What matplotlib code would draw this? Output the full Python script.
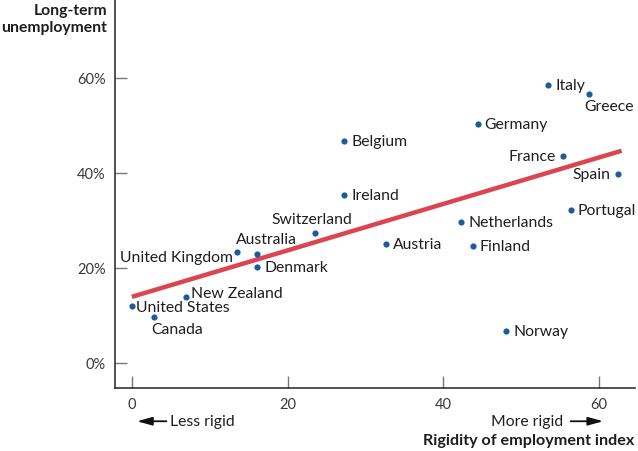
"""Long-term unemployment vs rigidity of employment index."""

import matplotlib
matplotlib.use("Agg")
import matplotlib.pyplot as plt

# --- Data ---
COUNTRIES = [
    "United States", "Canada", "New Zealand", "United Kingdom", "Australia",
    "Denmark", "Switzerland", "Ireland", "Belgium", "Austria", "Netherlands",
    "Finland", "Germany", "Norway", "Italy", "France", "Greece", "Portugal", "Spain",
]
RIGIDITY = [0.0, 2.8, 6.9, 13.5, 16.1, 16.1, 23.5, 27.3, 27.3, 32.7, 42.3,
            43.8, 44.4, 48.1, 53.5, 55.4, 58.7, 56.4, 62.4]
UNEMPLOYMENT = [12.0, 9.7, 13.9, 23.4, 22.9, 20.2, 27.4, 35.2, 46.7, 25.1, 29.7,
                24.6, 50.3, 6.7, 58.5, 43.4, 56.6, 32.2, 39.8]
TREND_X = [0, 62.9]
TREND_Y = [13.9, 44.6]

X_TICKS = [0, 20, 40, 60]
Y_TICKS = [0, 20, 40, 60]

# label placement: (dx, dy) in points, horizontal alignment
LABEL_POS = {
    "United States": ((3, -1), "left"),
    "Canada": ((-2, -9), "left"),
    "New Zealand": ((4, 3), "left"),
    "United Kingdom": ((-3, -4), "right"),
    "Australia": ((7, 11), "center"),
    "Denmark": ((5, 0), "left"),
    "Switzerland": ((-2, 10), "center"),
    "Ireland": ((5, 0), "left"),
    "Belgium": ((5, 0), "left"),
    "Austria": ((5, 0), "left"),
    "Netherlands": ((5, 0), "left"),
    "Finland": ((5, 0), "left"),
    "Germany": ((5, 0), "left"),
    "Norway": ((5, 0), "left"),
    "Italy": ((5, 0), "left"),
    "France": ((-5, 0), "right"),
    "Greece": ((-3, -9), "left"),
    "Portugal": ((5, 0), "left"),
    "Spain": ((-5, 0), "right"),
}

DOT_COLOR = "#1d5b9e"
LINE_COLOR = "#dc4450"
TEXT_COLOR = "#1e1e1e"

plt.rcParams.update({
    "font.family": ["Lato", "DejaVu Sans"],
    "font.size": 11.3,
})

fig = plt.figure(figsize=(6.38, 4.52), dpi=100)
ax = fig.add_axes([0.181, 0.139, 0.814, 0.861])

ax.plot(TREND_X, TREND_Y, color=LINE_COLOR, lw=3.2, solid_capstyle="butt", zorder=2)
ax.scatter(RIGIDITY, UNEMPLOYMENT, s=20, color=DOT_COLOR, zorder=3, linewidths=0)

for name, x, y in zip(COUNTRIES, RIGIDITY, UNEMPLOYMENT):
    (dx, dy), ha = LABEL_POS[name]
    ax.annotate(name, (x, y), textcoords="offset points", xytext=(dx, dy),
                ha=ha, va="center", fontsize=11.3, color=TEXT_COLOR)

ax.set_xlim(-2.1, 64.6)
ax.set_ylim(-5.3, 76.5)
ax.set_xticks(X_TICKS)
ax.set_yticks(Y_TICKS)
ax.set_yticklabels([f"{t}%" for t in Y_TICKS])
ax.tick_params(direction="in", length=8.5, width=1, color="#777777",
               labelsize=10.5, labelcolor="#3a3a3a")
ax.tick_params(axis="x", pad=6)
ax.tick_params(axis="y", pad=7)

for side in ["top", "right"]:
    ax.spines[side].set_visible(False)
for side in ["left", "bottom"]:
    ax.spines[side].set_linewidth(1.1)
    ax.spines[side].set_color("#222222")

# axis titles
fig.text(107 / 638, 1 - 4 / 452, "Long-term\nunemployment", ha="right", va="top",
         fontsize=11.3, fontweight="bold", color=TEXT_COLOR, linespacing=1.25)
fig.text(634 / 638, 1 - 441 / 452, "Rigidity of employment index", ha="right",
         va="center", fontsize=11.6, fontweight="bold", color=TEXT_COLOR)

# direction arrows below the x axis
blend = ("data", "axes fraction")
ax.annotate("", xy=(0.3, -0.085), xytext=(4.8, -0.085), xycoords=blend,
            textcoords=blend, annotation_clip=False,
            arrowprops=dict(arrowstyle="-|>,head_length=0.8,head_width=0.22",
                            color="#111111", lw=1.3))
ax.text(4.9, -0.085, "Less rigid", transform=ax.get_xaxis_transform(),
        ha="left", va="center", fontsize=11.3, color=TEXT_COLOR)
ax.annotate("", xy=(60.9, -0.085), xytext=(56.0, -0.085), xycoords=blend,
            textcoords=blend, annotation_clip=False,
            arrowprops=dict(arrowstyle="-|>,head_length=0.8,head_width=0.22",
                            color="#111111", lw=1.3))
ax.text(55.4, -0.085, "More rigid", transform=ax.get_xaxis_transform(),
        ha="right", va="center", fontsize=11.3, color=TEXT_COLOR)

fig.savefig("out.png", dpi=100)
